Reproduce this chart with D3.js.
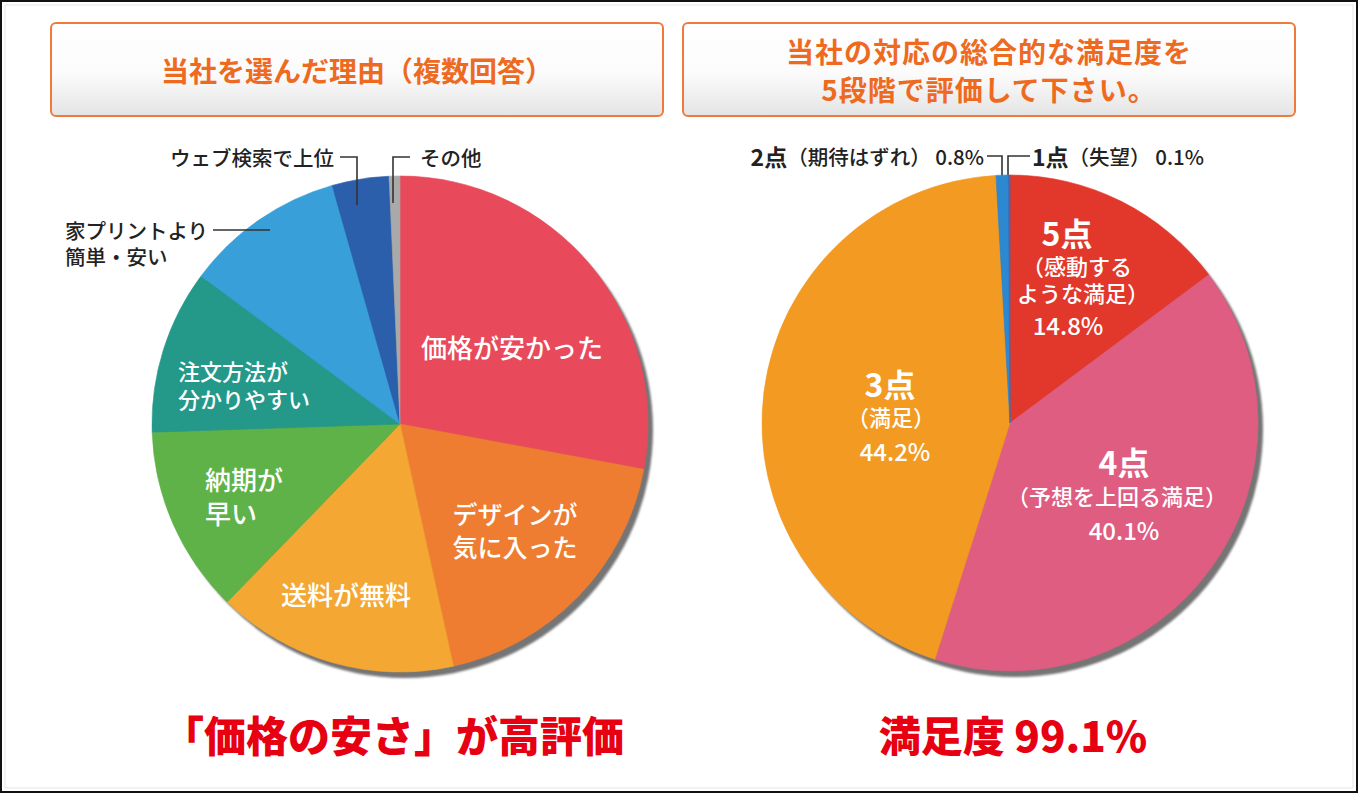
<!DOCTYPE html>
<html><head><meta charset="utf-8">
<script src="https://cdn.jsdelivr.net/npm/d3@7"></script>
<style>
html,body{margin:0;padding:0;background:#fff;}
svg{display:block;}
text{font-family:"Noto Sans CJK JP","Noto Sans",sans-serif;}
</style></head>
<body>
<svg id="chart" width="1360" height="795"></svg>
<script>
// ---------- DATA ----------
const leftTitle = ["当社を選んだ理由（複数回答）"];
const leftCategories = ["価格が安かった","デザインが気に入った","送料が無料","納期が早い","注文方法が分かりやすい","家プリントより簡単・安い","ウェブ検索で上位","その他"];
const leftLabelLines = [["価格が安かった"],["デザインが","気に入った"],["送料が無料"],["納期が","早い"],["注文方法が","分かりやすい"],["家プリントより","簡単・安い"],["ウェブ検索で上位"],["その他"]];
const leftValues = [27.9,18.6,15.7,12.2,10.7,10.4,3.7,0.7];
const leftColors = ["#e84a5b","#ef7d31","#f4a733","#5eb247","#24998a","#389fd9","#2b5eab","#a9a9a9"];
const leftFooter = "「価格の安さ」が高評価";

const rightTitle = ["当社の対応の総合的な満足度を","5段階で評価して下さい。"];
const rightCategories = ["5点","4点","3点","2点","1点"];
const rightSubLabels = [["（感動する","ような満足）"],["（予想を上回る満足）"],["（満足）"],["（期待はずれ）"],["（失望）"]];
const rightValues = [14.8,40.1,44.2,0.8,0.1];
const rightColors = ["#e2382c","#de5d81","#f29a22","#2c88d0","#3a6db5"];
const rightFooter = "満足度 99.1%";

// ---------- LAYOUT ----------
const W = 1360, H = 795;
const svg = d3.select("#chart");
const defs = svg.append("defs");
const grad = defs.append("linearGradient").attr("id","boxg").attr("x1",0).attr("y1",0).attr("x2",0).attr("y2",1);
grad.append("stop").attr("offset","0%").attr("stop-color","#ffffff");
grad.append("stop").attr("offset","55%").attr("stop-color","#fbfbfb");
grad.append("stop").attr("offset","100%").attr("stop-color","#e4e4e4");
const blur = defs.append("filter").attr("id","sh").attr("x","-10%").attr("y","-10%").attr("width","120%").attr("height","120%");
blur.append("feGaussianBlur").attr("stdDeviation",1);

// frame
svg.append("rect").attr("x",1).attr("y",1).attr("width",W-4).attr("height",H-4)
  .attr("fill","none").attr("stroke","#111").attr("stroke-width",2);
svg.append("rect").attr("x",5).attr("y",5).attr("width",W-12).attr("height",H-12)
  .attr("fill","none").attr("stroke","#e6e6e6").attr("stroke-width",1);

const titleColor = "#ee6a1f";
function titleBox(x, lines, ls){
  const g = svg.append("g");
  g.append("rect").attr("x",x).attr("y",23).attr("width",612).attr("height",93).attr("rx",5)
    .attr("fill","url(#boxg)").attr("stroke","#f07a3c").attr("stroke-width",2);
  const cy = 70, lh = 38;
  lines.forEach((t,i)=>{
    g.append("text").attr("x",x+306).attr("y",cy + (i-(lines.length-1)/2)*lh)
      .attr("text-anchor","middle").attr("dominant-baseline","central")
      .attr("letter-spacing",ls)
      .attr("font-size",28).attr("font-weight",700).attr("fill",titleColor).text(t);
  });
}
titleBox(51, leftTitle, 0);
titleBox(683, rightTitle, 1);

const R = 248;
const pie = d3.pie().sort(null).value(d=>d).startAngle(0).endAngle(2*Math.PI);
const arc = d3.arc().innerRadius(0).outerRadius(R);

function drawPie(cx, cy, values, colors){
  const g = svg.append("g").attr("transform",`translate(${cx},${cy})`);
  g.append("circle").attr("cx",5).attr("cy",6).attr("r",R).attr("fill","#747474").attr("filter","url(#sh)");
  g.selectAll("path.s").data(pie(values)).join("path").attr("class","s")
    .attr("d",arc).attr("fill",(d,i)=>colors[i]).attr("stroke",(d,i)=>colors[i]).attr("stroke-width",0.6);
  return g;
}

// ---------- LEFT PIE ----------
const LC = [400,424];
const gl = drawPie(LC[0], LC[1], leftValues, leftColors);
// inside label layout: [dx, dy-first-line, anchor, font-size, line-height]
const leftInside = [
  [112,-78,"middle",26,33],
  [115,89,"middle",25,33],
  [-54,169,"middle",26,33],
  [-195,54,"start",26,34],
  [-222,-54,"start",22,28]
];
leftInside.forEach((p,i)=>{
  leftLabelLines[i].forEach((t,j)=>{
    gl.append("text").attr("x",p[0]).attr("y",p[1]+j*p[4]).attr("text-anchor",p[2])
      .attr("dominant-baseline","central").attr("font-size",p[3]).attr("font-weight",500)
      .attr("fill","#fff").text(t);
  });
});
const lineCol = "#333";
// outside labels
const outG = svg.append("g");
function outText(x,y,t,anchor,size,weight){
  return outG.append("text").attr("x",x).attr("y",y).attr("text-anchor",anchor||"start")
    .attr("dominant-baseline","central").attr("font-size",size||20.5).attr("font-weight",weight||500)
    .attr("fill","#222").text(t);
}
function leader(pts){
  outG.append("path").attr("d",d3.line()(pts)).attr("fill","none").attr("stroke",lineCol).attr("stroke-width",1.6);
}
// 家プリントより
outText(LC[0]-335, LC[1]-194, leftLabelLines[5][0]);
outText(LC[0]-335, LC[1]-168, leftLabelLines[5][1]);
leader([[LC[0]-187,LC[1]-194],[LC[0]-130,LC[1]-194]]);
// ウェブ検索で上位
outText(LC[0]-66, LC[1]-267, leftLabelLines[6][0], "end");
leader([[LC[0]-60,LC[1]-267],[LC[0]-43,LC[1]-267],[LC[0]-43,LC[1]-219]]);
// その他
outText(LC[0]+20, LC[1]-267, leftLabelLines[7][0], "start");
leader([[LC[0]+10,LC[1]-267],[LC[0]-7,LC[1]-267],[LC[0]-7,LC[1]-221]]);

// ---------- RIGHT PIE ----------
const RC = [1010,423];
const gr = drawPie(RC[0], RC[1], rightValues, rightColors);
const rightInside = [
  {x:[57,67,73,58], y:[-191,-158,-131,-99]},
  {x:[114,107,114], y:[38,72,106]},
  {x:[-120,-119,-115], y:[-40,-7,27]}
];
const rightSizes = [32,22,24];
rightInside.forEach((p,i)=>{
  const lines = [rightCategories[i], ...rightSubLabels[i], rightValues[i].toFixed(1)+"%"];
  lines.forEach((t,j)=>{
    const isCat = j===0, isVal = j===lines.length-1;
    gr.append("text").attr("x",p.x[j]).attr("y",p.y[j]).attr("text-anchor","middle")
      .attr("dominant-baseline","central")
      .attr("font-size", isCat?rightSizes[0]:(isVal?rightSizes[2]:rightSizes[1]))
      .attr("font-weight", isCat?700:500)
      .attr("fill","#fff").text(t);
  });
});
// top outside labels
function richLabel(x,y,anchor,cat,sub,val){
  const t = outG.append("text").attr("x",x).attr("y",y).attr("text-anchor",anchor)
    .attr("dominant-baseline","central").attr("fill","#222");
  t.append("tspan").attr("font-size",23).attr("font-weight",700).text(cat);
  t.append("tspan").attr("font-size",20.5).attr("font-weight",500).text(sub+" "+val.toFixed(1)+"%");
}
richLabel(RC[0]-26, RC[1]-267, "end", rightCategories[3], rightSubLabels[3][0], rightValues[3]);
leader([[RC[0]-23,RC[1]-267],[RC[0]-8,RC[1]-267],[RC[0]-8,RC[1]-220]]);
richLabel(RC[0]+22, RC[1]-267, "start", rightCategories[4], rightSubLabels[4][0], rightValues[4]);
leader([[RC[0]+20,RC[1]-267],[RC[0]-2,RC[1]-267],[RC[0]-2,RC[1]-220]]);

// ---------- FOOTERS ----------
svg.append("text").attr("x",393).attr("y",733).attr("text-anchor","middle").attr("dominant-baseline","central")
  .attr("font-size",42).attr("font-weight",900).attr("fill","#e60012").text(leftFooter);
svg.append("text").attr("x",1013).attr("y",733).attr("text-anchor","middle").attr("dominant-baseline","central")
  .attr("font-size",42).attr("font-weight",900).attr("fill","#e60012").text(rightFooter);
</script>
</body></html>
